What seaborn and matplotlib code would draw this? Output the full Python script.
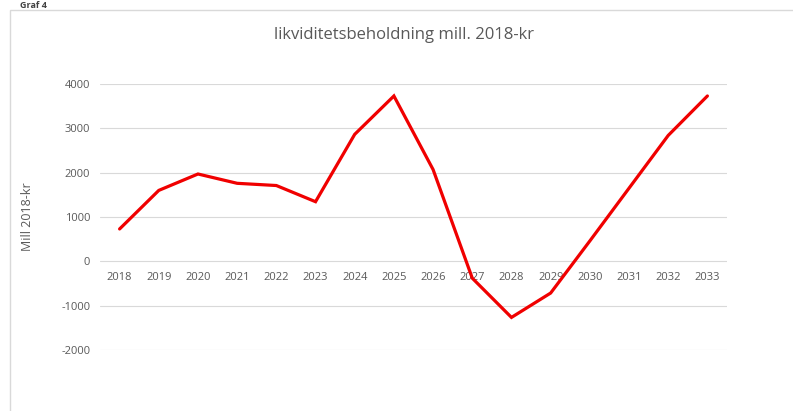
import numpy as np
import pandas as pd
import matplotlib
matplotlib.use("Agg")
import matplotlib.pyplot as plt
import seaborn as sns
from matplotlib.patches import Rectangle

years = ["2018", "2019", "2020", "2021", "2022", "2023", "2024", "2025",
         "2026", "2027", "2028", "2029", "2030", "2031", "2032", "2033"]
values = [730, 1600, 1970, 1760, 1710, 1345, 2865, 3730,
          2070, -380, -1265, -715, 460, 1650, 2840, 3730]
yticks = [-2000, -1000, 0, 1000, 2000, 3000, 4000]

title = "likviditetsbeholdning mill. 2018-kr"
ylabel = "Mill 2018-kr"

sns.set_theme(style="white")
plt.rcParams['font.family'] = ['Open Sans', 'DejaVu Sans']

df = pd.DataFrame({"pos": np.arange(len(years)), "value": values})

fig = plt.figure(figsize=(7.93, 4.11), dpi=100)
fig.patch.set_facecolor("white")

# chart frame
fig.add_artist(Rectangle((10 / 793, -0.01), 1.0, 1 - 10 / 411 + 0.01,
                         transform=fig.transFigure, fill=False,
                         edgecolor="#d9d9d9", linewidth=1.0))
fig.text(0.025, 1 - 1 / 411, "Graf 4", fontsize=6.5, fontweight="bold",
         color="#404040", va="top", ha="left")

ax = fig.add_axes([100 / 793, 1 - 350 / 411, 627 / 793, 266 / 411])
sns.lineplot(data=df, x="pos", y="value", ax=ax, color="#f00000",
             linewidth=2.3, solid_joinstyle="miter")

ax.set_xlim(-0.5, len(years) - 0.5)
ax.set_ylim(-2000, 4000)
ax.set_yticks(yticks)
ax.set_yticklabels([str(v) for v in yticks])
ax.set_xticks(np.arange(len(years)))
ax.set_xticklabels(years)

for y in yticks:
    ax.axhline(y, color="#d9d9d9", linewidth=0.8, zorder=0)

for s in ["top", "right", "left"]:
    ax.spines[s].set_visible(False)
ax.spines["bottom"].set_position(("data", 0))
ax.spines["bottom"].set_visible(False)

ax.tick_params(axis="x", length=0, pad=8, labelsize=8, labelcolor="#595959")
ax.tick_params(axis="y", length=0, pad=7, labelsize=8, labelcolor="#595959")

ax.set_xlabel("")
ax.set_ylabel(ylabel, fontsize=9, color="#595959")
ax.yaxis.set_label_coords(-66 / 627, 0.5)

fig.text(404 / 793, 1 - 35 / 411, title, fontsize=12, color="#595959",
         ha="center", va="center")

fig.savefig("out.png", dpi=100, facecolor="white")
